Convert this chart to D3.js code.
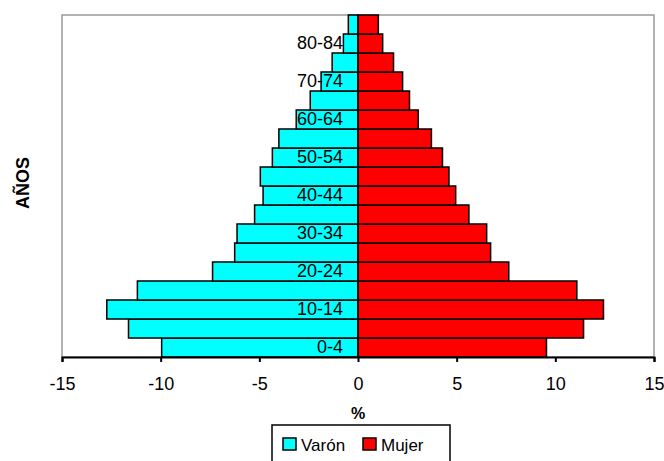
<!DOCTYPE html>
<html>
<head>
<meta charset="utf-8">
<script src="https://cdn.jsdelivr.net/npm/d3@7"></script>
<style>
  body { margin: 0; background: #fff; }
  svg { font-family: Arial, "Liberation Sans", sans-serif; }
</style>
</head>
<body>
<div class="pyramid"></div>
<script>
var ageGroups = ["0-4", "5-9", "10-14", "15-19", "20-24", "25-29", "30-34", "35-39", "40-44",
    "45-49", "50-54", "55-59", "60-64", "65-69", "70-74", "75-79", "80-84", "85+"];
var varon = [9.95, 11.63, 12.73, 11.18, 7.37, 6.25, 6.13, 5.24, 4.81,
    4.95, 4.34, 4.01, 3.13, 2.42, 1.87, 1.31, 0.74, 0.49];
var mujer = [9.55, 11.43, 12.44, 11.09, 7.64, 6.72, 6.52, 5.62, 4.95,
    4.61, 4.28, 3.72, 3.05, 2.61, 2.26, 1.80, 1.25, 1.03];
var xTicks = [-15, -10, -5, 0, 5, 10, 15];
var legendItems = [{ name: "Varón", color: "#00ffff" }, { name: "Mujer", color: "#ff0000" }];

function pyramid() {
    var margin = { top: 15, right: 10, bottom: 104, left: 62 },
        width = 664 - margin.left - margin.right,
        height = 461 - margin.top - margin.bottom;

    var svg = d3.select(".pyramid")
        .append("svg")
        .attr("width", 664)
        .attr("height", 461)
        .append("g")
        .attr("transform", "translate(" + margin.left + "," + margin.top + ")");

    var x = d3.scaleLinear().domain([-15, 15]).range([0, width]);
    var y = d3.scaleBand().domain(ageGroups).range([height, 0]).padding(0);

    // plot frame
    svg.append("rect")
        .attr("x", 0).attr("y", 0)
        .attr("width", width).attr("height", height)
        .attr("fill", "none")
        .attr("stroke", "#999")
        .attr("stroke-width", 1.5);

    var rows = ageGroups.map(function(d, i) { return { age: d, v: varon[i], m: mujer[i] }; });

    svg.selectAll(".bar-v")
        .data(rows)
        .enter().append("rect")
        .attr("class", "bar-v")
        .attr("x", function(d) { return x(-d.v); })
        .attr("y", function(d) { return y(d.age); })
        .attr("width", function(d) { return x(0) - x(-d.v); })
        .attr("height", y.bandwidth())
        .attr("fill", "#00ffff")
        .attr("stroke", "#000")
        .attr("stroke-width", 1.5);

    svg.selectAll(".bar-m")
        .data(rows)
        .enter().append("rect")
        .attr("class", "bar-m")
        .attr("x", x(0))
        .attr("y", function(d) { return y(d.age); })
        .attr("width", function(d) { return x(d.m) - x(0); })
        .attr("height", y.bandwidth())
        .attr("fill", "#ff0000")
        .attr("stroke", "#000")
        .attr("stroke-width", 1.5);

    // age labels sit on the zero line
    var yAxis = d3.axisLeft(y)
        .tickValues(ageGroups.filter(function(d, i) { return i % 2 === 0; }))
        .tickSize(0)
        .tickPadding(15);

    var ya = svg.append("g")
        .attr("transform", "translate(" + x(0) + ",0)")
        .call(yAxis);
    ya.select(".domain").remove();
    ya.selectAll("text")
        .attr("font-size", 18)
        .attr("font-family", "Arial, 'Liberation Sans', sans-serif")
        .attr("fill", "#000");

    var xAxis = d3.axisBottom(x)
        .tickValues(xTicks)
        .tickSize(5)
        .tickSizeOuter(5)
        .tickPadding(15)
        .tickFormat(function(d) { return String(d); });

    var xa = svg.append("g")
        .attr("transform", "translate(0," + height + ")")
        .call(xAxis);
    xa.select(".domain").attr("stroke", "#000").attr("stroke-width", 2);
    xa.selectAll(".tick line").attr("stroke", "#000").attr("stroke-width", 2);
    xa.selectAll("text")
        .attr("font-size", 18)
        .attr("font-family", "Arial, 'Liberation Sans', sans-serif")
        .attr("fill", "#000");

    // axis titles
    svg.append("text")
        .attr("x", x(0))
        .attr("y", height + 62)
        .attr("text-anchor", "middle")
        .attr("font-size", 16)
        .attr("font-weight", "bold")
        .text("%");

    svg.append("text")
        .attr("transform", "translate(" + (-margin.left + 29) + "," + 168 + ") rotate(-90)")
        .attr("text-anchor", "middle")
        .attr("font-size", 18)
        .attr("font-weight", "bold")
        .text("AÑOS");

    // legend
    var legend = svg.append("g")
        .attr("transform", "translate(" + (272 - margin.left) + "," + (425 - margin.top) + ")");
    legend.append("rect")
        .attr("width", 178).attr("height", 46)
        .attr("fill", "#fff")
        .attr("stroke", "#000")
        .attr("stroke-width", 1.5);

    var offsets = [11, 91];
    legendItems.forEach(function(item, i) {
        var g = legend.append("g").attr("transform", "translate(" + offsets[i] + ",13)");
        g.append("rect")
            .attr("width", 13).attr("height", 12)
            .attr("fill", item.color)
            .attr("stroke", "#000")
            .attr("stroke-width", 1.5);
        g.append("text")
            .attr("x", 18)
            .attr("y", 13)
            .attr("font-size", 17)
            .text(item.name);
    });
}

pyramid();
</script>
</body>
</html>
